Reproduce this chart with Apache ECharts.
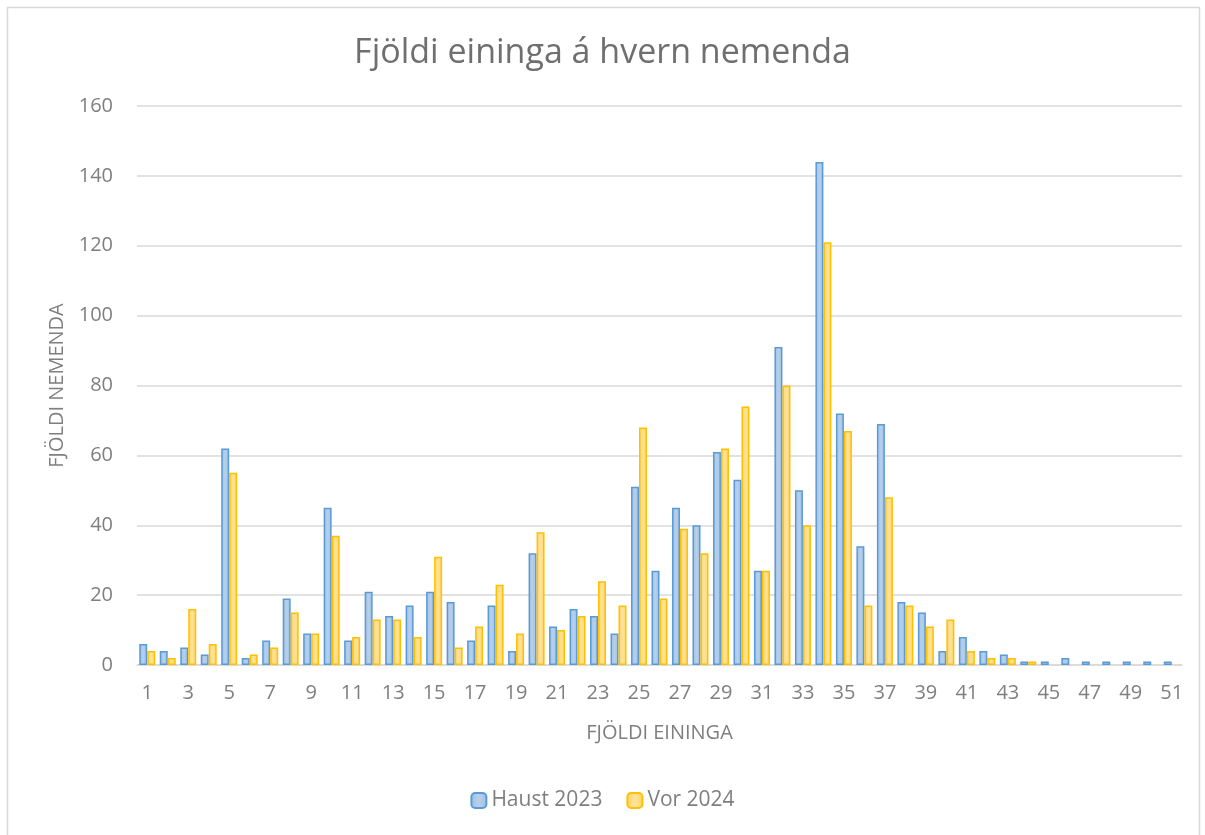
<!DOCTYPE html>
<html>
<head>
<meta charset="utf-8">
<script src="https://cdn.jsdelivr.net/npm/echarts@6/dist/echarts.min.js"></script>
<style>
  html, body { margin: 0; padding: 0; background: #fff; }
  #chart { width: 1205px; height: 835px; }
</style>
</head>
<body>
<div id="chart"></div>
<script>
// fjöldi eininga 1..51
var categories = [];
for (var c = 1; c <= 51; c++) categories.push(String(c));

var haust2023 = [6, 4, 5, 3, 62, 2, 7, 19, 9, 45,
                 7, 21, 14, 17, 21, 18, 7, 17, 4, 32,
                 11, 16, 14, 9, 51, 27, 45, 40, 61, 53,
                 27, 91, 50, 144, 72, 34, 69, 18, 15, 4,
                 8, 4, 3, 1, 1, 2, 1, 1, 1, 1, 1];
var vor2024 = [4, 2, 16, 6, 55, 3, 5, 15, 9, 37,
               8, 13, 13, 8, 31, 5, 11, 23, 9, 38,
               10, 14, 24, 17, 68, 19, 39, 32, 62, 74,
               27, 80, 40, 121, 67, 17, 48, 17, 11, 13,
               4, 2, 2, 1, 0, 0, 0, 0, 0, 0, 0];
var yTicks = [0, 20, 40, 60, 80, 100, 120, 140, 160];

// tómir dálkar eru ekki teiknaðir
function noZero(arr) {
    return arr.map(function (v) { return v === 0 ? null : v; });
}

var FONT = '"Open Sans", sans-serif';
var GREY = '#7f7f7f';

var chart = echarts.init(document.getElementById('chart'));
chart.setOption({
    animation: false,
    textStyle: { fontFamily: FONT },
    title: {
        text: 'Fjöldi eininga á hvern nemenda',
        left: 'center',
        top: 31,
        textStyle: { fontSize: 34, fontWeight: 'normal', color: '#6f6f6f', fontFamily: FONT }
    },
    graphic: [{
        type: 'rect',
        shape: { x: 7.5, y: 7.5, width: 1192, height: 840 },
        style: { fill: 'none', stroke: '#d9d9d9', lineWidth: 1.5 },
        silent: true
    }],
    legend: {
        bottom: 19,
        left: 'center',
        itemWidth: 15,
        itemHeight: 15,
        itemGap: 24,
        textStyle: { fontSize: 21, color: GREY, fontFamily: FONT },
        data: ['Haust 2023', 'Vor 2024']
    },
    grid: { left: 137, right: 23, top: 106, bottom: 170 },
    xAxis: {
        type: 'category',
        data: categories,
        name: 'FJÖLDI EININGA',
        nameLocation: 'middle',
        nameGap: 58,
        nameTextStyle: { fontSize: 20, color: GREY, fontFamily: FONT },
        axisLine: { lineStyle: { color: '#d9d9d9', width: 1.5 } },
        axisTick: { show: false },
        axisLabel: { interval: 1, fontSize: 20, color: GREY, margin: 18 }
    },
    yAxis: {
        type: 'value',
        min: yTicks[0],
        max: yTicks[yTicks.length - 1],
        interval: 20,
        name: 'FJÖLDI NEMENDA',
        nameLocation: 'middle',
        nameGap: 70,
        nameTextStyle: { fontSize: 20, color: GREY, fontFamily: FONT },
        axisLine: { show: false },
        axisTick: { show: false },
        axisLabel: { fontSize: 20, color: GREY, margin: 24 },
        splitLine: { lineStyle: { color: '#d9d9d9', width: 1.5 } }
    },
    series: [
        {
            name: 'Haust 2023',
            type: 'bar',
            data: noZero(haust2023),
            barWidth: 8,
            barGap: '0%',
            itemStyle: {
                color: new echarts.graphic.LinearGradient(0, 0, 1, 0, [
                    { offset: 0, color: '#9dbfe4' },
                    { offset: 0.5, color: '#b7d0ec' },
                    { offset: 1, color: '#9dbfe4' }
                ]),
                borderColor: '#5b9bd5',
                borderWidth: 1.5
            }
        },
        {
            name: 'Vor 2024',
            type: 'bar',
            data: noZero(vor2024),
            barWidth: 8,
            itemStyle: {
                color: new echarts.graphic.LinearGradient(0, 0, 1, 0, [
                    { offset: 0, color: '#ffd666' },
                    { offset: 0.5, color: '#ffe29a' },
                    { offset: 1, color: '#ffd666' }
                ]),
                borderColor: '#ffc000',
                borderWidth: 1.5
            }
        }
    ]
});
</script>
</body>
</html>
